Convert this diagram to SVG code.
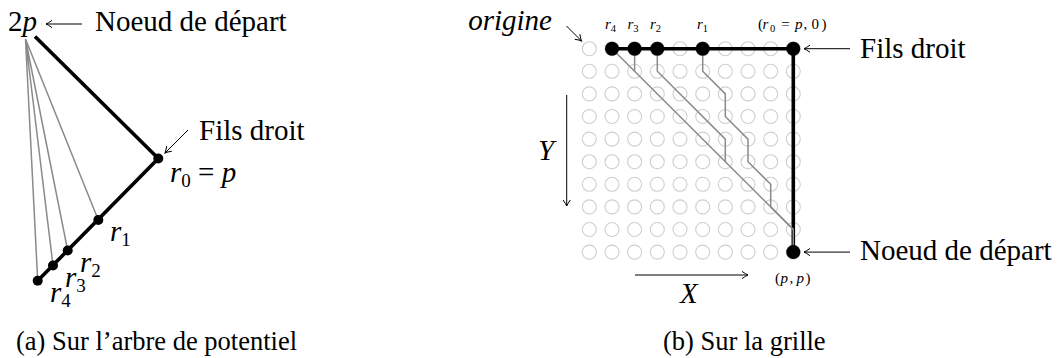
<svg xmlns="http://www.w3.org/2000/svg" width="1062" height="358" viewBox="0 0 1062 358">
<style>
text{font-family:"Liberation Serif","Times New Roman",serif;fill:#000}
.big{font-size:29px}
.cap{font-size:26.5px}
.sm{font-size:15px}
.it{font-style:italic}
.thick{stroke:#000;stroke-width:3.6;fill:none;stroke-linejoin:miter}
.gray{stroke:#8a8a8a;stroke-width:1.5;fill:none}
.ar{stroke:#000;stroke-width:1;fill:none;marker-end:url(#arr)}
.gc{fill:none;stroke:#cfcfcf;stroke-width:1.1}
.dot{fill:#000}
</style>
<defs>
<marker id="arr" viewBox="-8 -5 10 10" refX="0" refY="0" markerWidth="10" markerHeight="10" markerUnits="userSpaceOnUse" orient="auto">
<path d="M-6,-3.6 Q-2,-0.8 0,0 Q-2,0.8 -6,3.6" fill="none" stroke="#000" stroke-width="1"/>
</marker>
<g id="row">
<circle class="gc" cx="589.3" cy="0" r="7"/><circle class="gc" cx="612" cy="0" r="7"/><circle class="gc" cx="634.6" cy="0" r="7"/><circle class="gc" cx="657.3" cy="0" r="7"/><circle class="gc" cx="680" cy="0" r="7"/><circle class="gc" cx="702.7" cy="0" r="7"/><circle class="gc" cx="725.3" cy="0" r="7"/><circle class="gc" cx="748" cy="0" r="7"/><circle class="gc" cx="770.7" cy="0" r="7"/><circle class="gc" cx="793.3" cy="0" r="7"/>
</g>
</defs>
<rect width="1062" height="358" fill="#fff"/>

<!-- (a) tree -->
<g id="connectors-a">
<path class="gray" d="M25.5,39 L98.3,220 M25.5,39 L67.7,250.5 M25.5,39 L53,265.5 M25.5,39 L37.7,280.7"/>
<path class="thick" d="M35,36.5 L158.3,158.5 L37.7,280.7"/>
<path class="ar" d="M82,24 L46,24"/>
<path class="ar" d="M188,130 L165,153"/>
</g>
<g id="node-2p"><text class="big" x="8" y="31">2<tspan class="it">p</tspan></text></g>
<g id="label-start-a"><text class="big" x="95" y="31">Noeud de départ</text></g>
<g id="label-fils-a"><text class="big" x="199" y="140">Fils droit</text></g>
<g id="node-r0-a"><circle class="dot" cx="158.3" cy="158.5" r="5"/><text class="big" x="170" y="182"><tspan class="it">r</tspan><tspan font-size="19" dy="5">0</tspan><tspan dy="-5"> = </tspan><tspan class="it">p</tspan></text></g>
<g id="node-r1-a"><circle class="dot" cx="98.3" cy="220" r="5"/><text class="big" x="110" y="241"><tspan class="it">r</tspan><tspan font-size="19" dy="5">1</tspan></text></g>
<g id="node-r2-a"><circle class="dot" cx="67.7" cy="250.5" r="5"/><text class="big" x="80" y="272"><tspan class="it">r</tspan><tspan font-size="19" dy="5">2</tspan></text></g>
<g id="node-r3-a"><circle class="dot" cx="53" cy="265.5" r="5"/><text class="big" x="65" y="287"><tspan class="it">r</tspan><tspan font-size="19" dy="5">3</tspan></text></g>
<g id="node-r4-a"><circle class="dot" cx="37.7" cy="280.7" r="5"/><text class="big" x="50" y="302"><tspan class="it">r</tspan><tspan font-size="19" dy="5">4</tspan></text></g>
<text class="cap" x="16" y="350">(a) Sur l’arbre de potentiel</text>

<!-- (b) grid -->
<g id="grid">
<use href="#row" y="48.7"/><use href="#row" y="71.3"/><use href="#row" y="93.9"/><use href="#row" y="116.5"/><use href="#row" y="139.1"/><use href="#row" y="161.7"/><use href="#row" y="184.3"/><use href="#row" y="206.9"/><use href="#row" y="229.5"/><use href="#row" y="252.1"/>
</g>
<g id="connectors-b">
<path class="thick" d="M612,48.7 H793.3 V252.1"/>
<path class="gray" d="M612,48.7 L793.3,229.5 V252.1"/>
<path class="gray" d="M634.6,48.7 V71.3"/>
<path class="gray" d="M657.3,48.7 V71.3 L725.3,139.1 V161.7"/>
<path class="gray" d="M702.7,48.7 V71.3 L725.3,93.9 V116.5 L748,139.1 V161.7 L770.7,184.3 V206.9 L793.3,229.5"/>
<path class="ar" d="M566.5,26 L581.5,41"/>
<path class="ar" d="M566.7,95 V206"/>
<path class="ar" d="M635,275 H748"/>
<path class="ar" d="M850,48.7 H804"/>
<path class="ar" d="M850,252.1 H804"/>
</g>
<g id="node-r4-b"><circle class="dot" cx="612" cy="48.7" r="7"/><text class="sm" x="605" y="29"><tspan class="it">r</tspan><tspan font-size="10.5" dy="3">4</tspan></text></g>
<g id="node-r3-b"><circle class="dot" cx="634.6" cy="48.7" r="7"/><text class="sm" x="627.5" y="29"><tspan class="it">r</tspan><tspan font-size="10.5" dy="3">3</tspan></text></g>
<g id="node-r2-b"><circle class="dot" cx="657.3" cy="48.7" r="7"/><text class="sm" x="650" y="29"><tspan class="it">r</tspan><tspan font-size="10.5" dy="3">2</tspan></text></g>
<g id="node-r1-b"><circle class="dot" cx="702.7" cy="48.7" r="7"/><text class="sm" x="697" y="29"><tspan class="it">r</tspan><tspan font-size="10.5" dy="3">1</tspan></text></g>
<g id="node-r0-b"><circle class="dot" cx="793.3" cy="48.7" r="7"/><text class="sm" y="29"><tspan x="758">(</tspan><tspan class="it" x="762.5">r</tspan><tspan font-size="10.5" x="770" dy="3">0</tspan><tspan x="781.3" dy="-3">=</tspan><tspan class="it" x="795">p</tspan><tspan x="803.5">,</tspan><tspan x="811.5">0</tspan><tspan x="821.5">)</tspan></text></g>
<g id="node-pp"><circle class="dot" cx="793.3" cy="252.1" r="7"/><text class="sm" y="283"><tspan x="775">(</tspan><tspan class="it" x="780.5">p</tspan><tspan x="789.5">,</tspan><tspan class="it" x="796.5">p</tspan><tspan x="805.5">)</tspan></text></g>
<g id="label-origine"><text class="big it" x="552" y="30" text-anchor="end">origine</text></g>
<g id="label-Y"><text class="big it" x="538" y="160">Y</text></g>
<g id="label-X"><text class="big it" x="680" y="303">X</text></g>
<g id="label-fils-b"><text class="big" x="860" y="58">Fils droit</text></g>
<g id="label-start-b"><text class="big" x="860" y="260">Noeud de départ</text></g>
<text class="cap" x="663" y="350">(b) Sur la grille</text>
</svg>
